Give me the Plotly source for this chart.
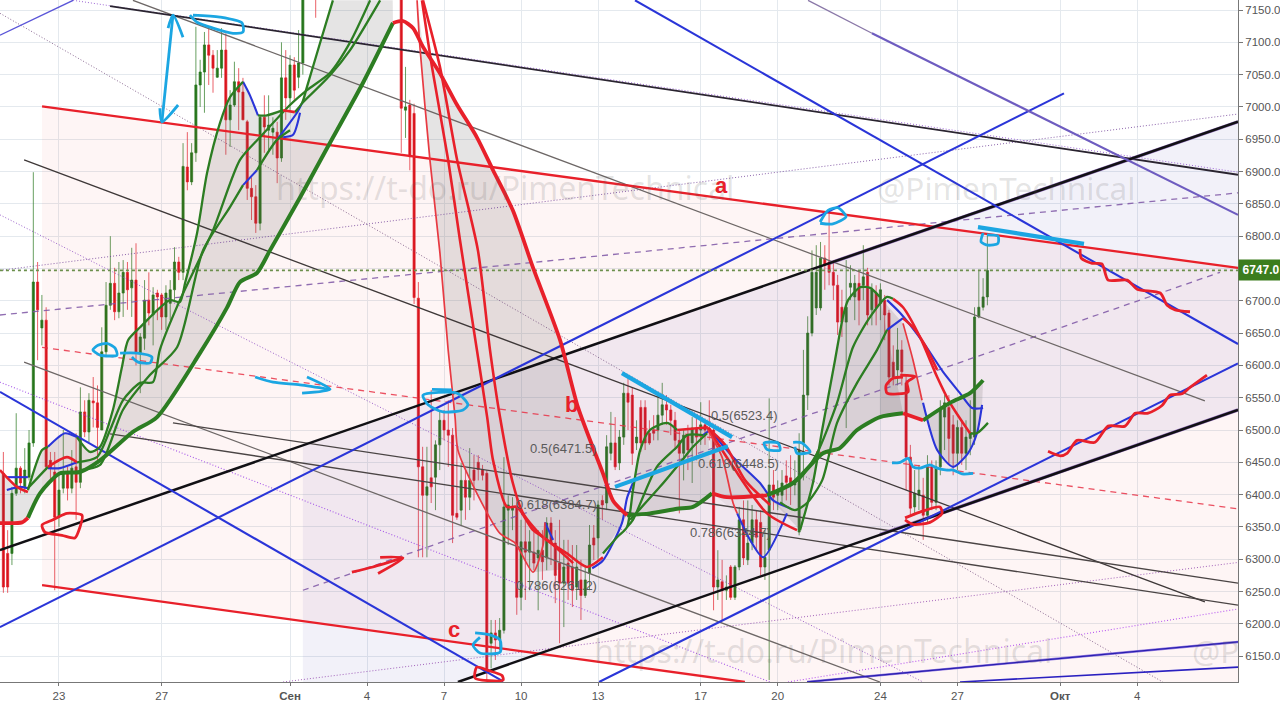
import plotly.graph_objects as go

N = None
# ---- x tick labels (days counted from 23 Aug) ----
tick_days = [0, 4, 9, 12, 15, 18, 21, 25, 28, 32, 35, 39, 42]
tick_text = ["23", "27", "<b>Сен</b>", "4", "7", "10", "13", "17", "20", "24", "27", "<b>Окт</b>", "4"]
y_ticks = [6150 + 50 * k for k in range(21)]
last_price = 6747.0

# ---- 4h candles ----
first_candle_day = -2.1667
opens = [6433,6309,6309,6402,6441,6412,6427,6480,6729,6658,
6670,6453,6435,6365,6410,6435,6410,6443,6419,6528,
6497,6545,6542,6500,6621,6693,6727,6683,6712,6744,
6720,6732,6619,6642,6701,6678,6712,6709,6675,6696,
6717,6760,6744,6907,6884,6929,7034,7054,7096,7080,
7046,7060,7088,6980,7003,7039,7023,6977,6874,6861,
6820,6984,6964,6961,6961,6921,7045,7014,7065,7046,
7068,N,N,7260,N,N,N,N,N,N,
N,N,N,N,N,N,N,N,N,N,
N,N,N,7300,6995,7003,6990,6704,6443,6399,
6426,6427,6477,6515,6500,6492,6371,6376,6422,6396,
6438,6450,6439,6433,6170,6186,6175,6190,6376,6376,
6381,6241,6327,6311,6311,6302,6314,6302,6356,6325,
6294,6263,6294,6288,6257,6268,6244,6278,6333,6333,
6391,6387,6464,6480,6449,6489,6557,6554,6480,6535,
6535,6495,6500,6500,6523,6539,6531,6515,6484,6464,
6492,6480,6503,6500,6508,6503,6500,6257,6265,6252,
6288,6241,6288,6361,6299,6325,6361,6357,6288,6314,
6415,6399,6399,6429,6426,6415,6342,6480,6554,6650,
6689,6689,6766,6760,6744,6724,6690,6667,6721,6706,
6727,6724,6744,6686,6712,6696,6701,6681,6605,6593,
6624,6573,6458,6381,6399,6399,6368,6443,6388,6443,
6520,6535,6508,6464,6504,6464,6487,6489,6675,6690,
6706]
highs = [6466,6345,6412,6526,6444,6472,6500,6899,6760,6709,
6690,6466,6466,6433,6500,6443,6469,6495,6566,6546,
6557,6582,6569,6659,6729,6800,6751,6760,6763,6760,
6782,6789,6650,6732,6744,6721,6717,6712,6724,6732,
6783,6768,6944,6961,6944,7124,7073,7116,7122,7088,
7088,7122,7114,7026,7070,7060,7045,6980,6891,6879,
6987,7018,7018,6984,6977,7100,7088,7080,7077,7119,
7300,N,N,7280,N,N,N,N,N,N,
N,N,N,N,N,N,N,N,N,N,
N,N,N,7320,7062,7011,7005,6729,6474,6474,
6562,6484,6531,6531,6546,6503,6477,6449,6438,6472,
6461,6461,6446,6438,6206,6206,6209,6458,6399,6396,
6396,6361,6361,6345,6345,6345,6345,6365,6365,6345,
6361,6330,6330,6322,6322,6299,6291,6353,6353,6391,
6399,6492,6528,6520,6500,6573,6580,6565,6515,6546,
6546,6515,6523,6554,6573,6554,6539,6528,6500,6500,
6508,6520,6523,6543,6515,6546,6503,6314,6299,6275,
6291,6291,6381,6391,6391,6384,6376,6376,6345,6549,
6438,6422,6438,6453,6461,6453,6495,6624,6676,6778,
6786,6791,6786,6840,6763,6740,6717,6763,6755,6740,
6747,6786,6751,6727,6724,6727,6709,6686,6631,6658,
6639,6585,6477,6438,6446,6426,6461,6453,6453,6546,
6554,6554,6523,6515,6515,6515,6546,6690,6748,6735,
6805]
lows = [6248,6248,6291,6398,6402,6402,6422,6474,6608,6631,
6438,6418,6252,6350,6402,6391,6402,6361,6410,6489,
6481,6504,6453,6500,6613,6686,6670,6673,6675,6686,
6675,6600,6557,6624,6662,6631,6670,6655,6655,6670,
6701,6732,6732,6871,6879,6915,7000,6991,7034,7022,
7045,7045,6926,6938,7000,6964,6980,6856,6825,6805,
6809,6929,6933,6926,6882,6915,6980,6995,7011,7029,
7050,N,N,7138,N,N,N,N,N,N,
N,N,N,N,N,N,N,N,N,N,
N,N,N,6929,6952,6902,6695,6303,6303,6303,
6387,6376,6438,6484,6443,6325,6361,6353,6361,6376,
6391,6422,6422,6113,6131,6144,6159,6185,6322,6345,
6214,6221,6237,6252,6283,6221,6268,6283,6291,6232,
6170,6195,6237,6226,6237,6206,6240,6252,6299,6299,
6361,6376,6453,6438,6438,6477,6500,6446,6469,6466,
6469,6477,6484,6484,6508,6508,6492,6469,6371,6422,
6438,6418,6453,6477,6477,6484,6221,6237,6206,6237,
6237,6237,6283,6291,6291,6314,6314,6275,6268,6113,
6376,6376,6384,6391,6384,6399,6337,6422,6531,6645,
6678,6685,6717,6724,6701,6647,6644,6503,6701,6670,
6662,6701,6662,6662,6662,6670,6639,6569,6569,6569,
6569,6407,6368,6368,6376,6330,6357,6376,6376,6430,
6469,6446,6430,6438,6446,6438,6461,6477,6673,6685,
6693]
closes = [6257,6257,6402,6441,6418,6438,6480,6729,6686,6670,
6443,6441,6365,6407,6435,6410,6441,6419,6528,6497,
6546,6542,6504,6621,6693,6727,6683,6712,6744,6717,
6732,6619,6644,6701,6681,6709,6706,6675,6712,6717,
6760,6744,6908,6884,6929,7034,7054,7096,7080,7060,
7060,7088,6980,7003,7039,7023,6980,6874,6861,6820,
6984,6969,6972,6967,6921,7045,7014,7065,7026,7068,
7280,N,N,7200,N,N,N,N,N,N,
N,N,N,N,N,N,N,N,N,N,
N,N,N,6998,7000,6923,6705,6443,6399,6412,
6412,6477,6515,6500,6492,6368,6365,6422,6396,6422,
6422,6439,6430,6128,6186,6175,6190,6381,6384,6381,
6241,6327,6311,6327,6294,6314,6296,6356,6325,6275,
6263,6288,6263,6252,6288,6244,6268,6322,6322,6384,
6384,6474,6480,6443,6489,6557,6543,6464,6489,6480,
6480,6480,6495,6523,6539,6531,6515,6484,6464,6492,
6469,6503,6489,6508,6500,6497,6257,6268,6252,6257,
6241,6288,6361,6302,6325,6361,6334,6288,6303,6415,
6396,6407,6418,6419,6415,6422,6469,6554,6650,6744,
6744,6766,6755,6744,6724,6667,6667,6690,6727,6727,
6701,6737,6678,6717,6689,6717,6678,6582,6582,6624,
6590,6458,6379,6402,6407,6368,6443,6388,6443,6531,
6542,6487,6464,6504,6464,6489,6495,6675,6690,6706,
6747]

# ---- trend lines: (day, price) ----
red_top = [(-0.66, 7001), (45.93, 6751)]
red_bottom = [(-0.66, 6260), (26.72, 6110)]
black_up = [(-2.30, 6314), (45.93, 6977)]
black_up_edge = [(30.0, 6758), (45.93, 6977)]
black_low = [(15.54, 6110), (45.93, 6531)]
black_low_edge = [(31.98, 6338), (45.93, 6531)]
blue_up1 = [(-2.30, 6195), (39.15, 7021)]
blue_up2 = [(21.04, 6110), (45.93, 6603)]
blue_down1 = [(22.44, 7165), (45.93, 6633)]
blue_down2 = [(-2.30, 6559), (17.3, 6111)]
blue_corner = [(-2.30, 7111), (0.55, 7165)]
violet_thin = [(29.18, 7165), (31.67, 7114)]
violet_thick = [(31.67, 7114), (45.93, 6833)]
black_top = [(1.99, 7156), (45.93, 6895)]
dot_top = [(0.55, 7165), (45.93, 6899)]
grey_a = [(2.88, 7165), (44.64, 6545)]
grey_b = [(-1.36, 6918), (44.64, 6234)]
grey_c = [(-1.36, 6605), (31.98, 6110)]
thin_d = [(4.44, 6511), (45.93, 6263)]
thin_e = [(1.99, 6494), (45.93, 6229)]
dot_a = [(-2.30, 6747), (45.93, 6989)]
dash_b = [(-2.30, 6678), (45.93, 6867)]
dash_c = [(9.5, 6252), (45.23, 6744)]
dash_red = [(-0.66, 6628), (45.93, 6378)]
dot_e = [(-2.30, 7145), (43.0, 6110)]
dot_f = [(-2.30, 6833), (33.66, 6110)]
dot_g = [(-2.30, 6574), (27.7, 6110)]
dot_h = [(8.73, 6110), (45.93, 6295)]
dot_i = [(28.4, 6110), (45.93, 6223)]
violet_j = [(29.14, 6110), (45.93, 6172)]
blue_k = [(35.1, 6110), (45.93, 6133)]

# ---- channels ----
pink_zone = [(-0.66, 7001), (45.93, 6751), (45.93, 6000), (-0.66, 6260)]
lilac_zone = [(9.5, 6474), (45.93, 6977), (45.93, 6531), (9.5, 6023)]

# ---- slow average ----
slow_a = [(-1.21,6364),(-0.74,6402),(0.04,6433),(0.82,6435),(1.60,6453),(2.88,6497),(3.82,6520),(5.49,6619),(6.54,6689),(7.05,6729),(7.71,6743),(8.22,6778),(9.39,6860),(10.44,6936),(11.84,7037),(13.01,7130)]
slow_0 = [(-2.30,6356),(-1.44,6357),(-1.21,6364)]
slow_b = [(13.01,7130),(13.40,7133),(13.79,7122),(14.18,7093),(14.84,7052),(15.51,7003),(16.28,6953),(16.91,6902),(17.68,6840),(18.46,6752),(19.52,6639),(20.22,6535),(21.19,6433),(21.58,6391),(22.13,6368)]
slow_c = [(22.13,6368),(23.02,6371),(24.08,6378),(24.70,6381),(25.44,6402)]
slow_d = [(25.44,6402),(26.02,6396),(27.58,6399)]
slow_e = [(27.58,6399),(28.59,6418),(29.76,6464),(30.42,6472),(31.09,6500),(31.98,6520),(32.88,6526)]
slow_f = [(32.88,6526),(33.66,6515)]
slow_g = [(33.66,6515),(34.71,6542),(35.49,6557),(36.0,6577)]

# ---- fast averages ----
left_red = [(-2.30,6438),(-1.64,6412),(-1.21,6404)]
left_blue1 = [(-2.03,6427),(-1.21,6427)]
left_blue2 = [(-2.03,6407),(-1.57,6412),(-1.21,6410)]
up1_a = [(-1.21,6407),(-0.66,6469),(-0.43,6474)]
up1_b = [(-0.43,6474),(0.23,6495),(0.70,6489)]
up1_c = [(0.70,6489),(1.21,6466),(1.60,6474),(2.10,6531),(2.45,6597),(2.69,6639),(3.16,6659),(4.32,6701),(4.71,6698),(4.91,6727),(5.38,6805),(5.77,6898),(6.27,6975),(6.66,7015),(7.17,7039)]
up1_d = [(7.17,7039),(7.44,7018),(7.75,6987)]
up1_e = [(7.75,6987),(8.10,6987),(8.73,6995)]
up1_f = [(8.73,6995),(9.19,6992)]
up1_g = [(9.19,6992),(9.47,7006),(9.66,7031),(10.17,7099),(10.67,7165)]
up2_a = [(-1.21,6410),(-0.43,6443)]
up2_b = [(-0.43,6443),(0.31,6458),(0.70,6450)]
up2_c = [(0.70,6450),(1.48,6458),(1.99,6500),(2.49,6546),(3.16,6573),(3.66,6574),(3.93,6624),(4.71,6701),(6.0,6809),(7.05,6918),(7.83,6953),(9.0,7003),(9.66,7026),(10.56,7053),(11.34,7100),(12.12,7165)]
up3_a = [(-0.43,6441),(0.04,6441),(0.70,6450)]
up3_b = [(0.82,6438),(1.6,6446),(2.49,6531),(3.54,6585),(4.6,6628),(5.61,6778),(6.66,6845),(7.17,6879)]
up3_c = [(7.17,6879),(7.71,6902)]
up3_d = [(7.71,6902),(8.49,6949),(9.0,6964)]
up3_e = [(8.49,6949),(9.27,6991),(9.47,7006)]
up3_f = [(8.73,6953),(9.12,6957),(9.39,6991)]
up3_g = [(9.47,7006),(10.56,7049),(11.34,7088),(12.51,7165)]
down1 = [(13.95,7165),(14.06,7093),(14.45,6918),(14.84,6774),(15.16,6624),(15.43,6520),(15.54,6469),(16.28,6402),(17.18,6340),(17.77,6325),(18.47,6280),(18.86,6322),(18.93,6357)]
down1_b = [(18.93,6357),(19.25,6330)]
down2 = [(14.14,7165),(14.53,7062),(15.16,6918),(15.62,6794),(16.28,6624),(16.68,6520),(16.91,6453),(17.45,6381),(17.84,6381),(18.47,6345),(19.01,6330),(20.03,6294)]
down3 = [(14.18,7165),(14.84,7062),(15.51,6918),(16.32,6778),(16.79,6624),(17.18,6520),(17.68,6418),(18.08,6371),(18.86,6334),(19.79,6309),(20.57,6288),(21.19,6303)]
turn_blue = [(20.77,6286),(21.19,6298),(21.93,6356),(22.13,6395),(22.36,6418)]
rise_a = [(21.19,6309),(21.74,6334),(22.13,6350),(22.36,6407),(22.64,6469),(23.02,6500),(23.69,6511),(24.08,6500)]
rise_a_top = [(24.08,6500),(24.97,6503),(25.28,6504)]
rise_b = [(22.13,6350),(22.36,6361),(23.29,6443),(24.08,6474),(24.47,6492),(25.09,6492)]
rise_b_tip = [(25.09,6492),(25.36,6500)]
rise_c = [(22.25,6361),(23.41,6412),(24.19,6449),(24.70,6474),(25.25,6495)]
fall_blue = [(25.36,6500),(26.26,6458),(27.31,6418),(27.82,6391),(28.48,6379)]
fall_r1 = [(25.28,6503),(26.26,6443),(27.58,6371),(28.75,6345)]
fall_r2 = [(25.28,6500),(25.83,6458),(26.26,6387),(26.42,6371)]
fall_b2 = [(26.42,6371),(26.92,6330),(27.43,6303),(28.36,6371)]
fall_r3 = [(25.28,6503),(25.95,6477),(26.73,6422),(27.7,6384)]
lift_1 = [(28.87,6345),(29.37,6418),(29.73,6500),(30.23,6608),(30.54,6675),(30.74,6701),(31.21,6721),(31.6,6720),(31.98,6706)]
lift_2 = [(28.2,6410),(28.87,6425),(29.53,6464),(30.31,6542),(30.93,6628),(31.6,6675),(32.26,6706),(32.49,6703)]
lift_3 = [(28.09,6388),(28.67,6376),(29.14,6387),(29.73,6422),(30.31,6511),(31.09,6573),(31.87,6624),(32.26,6655)]
lift_3_b = [(32.26,6655),(32.88,6673)]
late_blue = [(32.26,6701),(32.77,6681),(33.66,6636),(34.44,6590),(35.1,6557),(35.57,6534),(36.0,6534)]
late_red = [(32.49,6703),(32.88,6690),(33.54,6644),(34.21,6582),(34.71,6542),(35.49,6495)]
late_tail = [(35.49,6495),(35.76,6495),(36.19,6511)]
late_red2 = [(32.88,6673),(33.27,6659),(33.74,6631),(34.21,6593)]
late_thin = [(32.88,6665),(33.27,6608),(33.62,6546)]
late_thin_b = [(33.66,6542),(34.21,6469),(34.83,6443),(35.41,6464),(35.76,6495),(35.96,6539)]

# ---- hand drawn marks ----
cy_arrow = [(4.01,6977),(4.44,7142)]
cy_head1 = [(4.25,7122),(4.44,7142),(4.83,7108)]
cy_head2 = [(3.93,6998),(4.01,6977),(4.64,7003)]
cy_ell1 = [(5.10,7142),(5.38,7131),(6.0,7122),(6.78,7114),(7.17,7116),(7.13,7130),(6.27,7139),(5.22,7142)]
cy_m1 = [(1.32,6624),(1.52,6631),(1.87,6634),(2.18,6627),(2.26,6616),(1.6,6616),(1.32,6624)]
cy_m2 = [(2.38,6619),(3.04,6619),(3.62,6613),(3.55,6604),(3.08,6605),(2.84,6613)]
cy_arr2 = [(7.64,6582),(8.34,6574),(9.39,6570),(10.56,6563)]
cy_arr2h = [(9.66,6582),(10.56,6563),(9.47,6557)]
cy_top = [(14.53,6563),(15.31,6562)]
cy_loop = [(14.18,6554),(14.38,6539),(14.96,6528),(15.74,6531),(15.93,6539),(15.51,6557),(14.18,6554)]
cy_c = [(16.21,6186),(16.79,6183),(17.18,6175),(17.18,6156),(16.4,6155),(16.13,6167),(16.4,6179)]
cy_m772 = [(27.47,6480),(28.01,6480),(28.09,6469),(27.58,6470),(27.47,6480)]
cy_m803 = [(28.6,6481),(28.95,6480),(29.26,6466),(28.75,6464),(28.67,6474)]
cy_m832 = [(29.65,6822),(29.96,6840),(30.35,6844),(30.66,6830),(30.15,6819),(29.65,6820)]
cy_m990 = [(36.0,6805),(35.92,6791),(36.19,6786),(36.58,6789),(36.58,6800),(36.15,6802)]
cy_sq = [(32.45,6449),(32.77,6450),(33.08,6456),(33.27,6443),(33.54,6441),(33.93,6446),(34.21,6441),(34.6,6438),(34.83,6438),(35.18,6432),(35.61,6433)]
cy_long1 = [(21.93,6588),(26.22,6489)]
cy_long2 = [(21.66,6412),(26.06,6475)]
cy_long3 = [(35.8,6814),(39.93,6788)]
rd_m1 = [(-0.66,6353),(-0.23,6361),(-0.04,6365),(0.31,6371),(0.9,6368),(0.82,6350),(0.62,6333),(0.12,6337),(-0.55,6342),(-0.66,6353)]
rd_arr = [(11.41,6280),(12.23,6288),(13.4,6302)]
rd_arrh = [(12.51,6303),(13.4,6302),(12.43,6278)]
rd_m2 = [(16.21,6116),(16.28,6133),(16.71,6128),(17.26,6120),(17.3,6113),(16.21,6116)]
rd_m3 = [(32.77,6585),(33.35,6583),(33.04,6574),(33.08,6559),(32.26,6557),(32.22,6569),(32.49,6580),(32.88,6582)]
rd_m4 = [(32.96,6364),(33.54,6373),(34.32,6381),(34.4,6371),(33.93,6357),(33.27,6354),(32.96,6361)]
rd_down = [(39.78,6780),(39.82,6766),(40.25,6758),(40.63,6757),(40.87,6732),(41.61,6732),(42.0,6718),(42.9,6712),(43.17,6693),(43.48,6686),(44.06,6683)]
rd_up = [(38.53,6467),(39.0,6460),(39.27,6464),(39.66,6484),(40.36,6481),(40.87,6506),(41.53,6506),(41.92,6526),(42.43,6526),(42.97,6538),(43.28,6554),(43.75,6556),(44.06,6566),(44.72,6585)]

GREEN, RED, BLUE, CYAN = "#2c7d22", "#e8202a", "#2a35d8", "#1ba6e2"
fig = go.Figure()

def line(pts, color, width=1.8, dash="solid", smooth=False):
    style = dict(color=color, width=width, dash=dash)
    if smooth:
        style.update(shape="spline", smoothing=0.7)
    fig.add_trace(go.Scatter(x=[p[0] for p in pts], y=[p[1] for p in pts], mode="lines",
                             line=style, hoverinfo="skip"))

def area(pts, color):
    fig.add_trace(go.Scatter(x=[p[0] for p in pts], y=[p[1] for p in pts], mode="lines", fill="toself",
                             fillcolor=color, line=dict(width=0), hoverinfo="skip"))

days = [first_candle_day + i / 6 for i in range(len(opens))]
fig.add_trace(go.Candlestick(x=days, open=opens, high=highs, low=lows, close=closes,
    increasing=dict(line=dict(color="rgba(40,120,30,0.7)", width=1), fillcolor="#27751c"),
    decreasing=dict(line=dict(color="rgba(225,30,40,0.7)", width=1), fillcolor="#d8141c"),
    whiskerwidth=0, hoverinfo="skip"))

# zones
area(pink_zone, "rgba(240,60,60,0.05)")
area(lilac_zone, "rgba(70,60,170,0.07)")
RIB = "rgba(95,85,85,0.16)"
area(left_red + slow_0[::-1], RIB)
area(up1_a + up1_b + up1_c + up1_d + up1_e + up1_f + up1_g + [(13.0, 7165)] + slow_a[::-1], RIB)
area(down1[:-2] + [(20.57, 6288), (21.19, 6309)] + (slow_b[3:])[::-1], RIB)
area(rise_a[2:] + rise_a_top + slow_c[::-1], RIB)
area(fall_blue[:4] + slow_d[::-1], RIB)
area(slow_d + fall_b2[::-1], "rgba(95,85,85,0.07)")
area(lift_1 + slow_e[::-1], RIB)
area([(31.98, 6706)] + late_thin + late_thin_b + slow_g[::-1] + slow_f[::-1] + [(31.98, 6520)], RIB)

# trend lines
FINE = "1px,2px"
line(dot_e, "rgba(110,70,120,0.8)", 1, FINE)
line(dot_f, "rgba(130,60,190,0.8)", 1, FINE)
line(dot_g, "rgba(150,60,230,0.85)", 1.1, FINE)
line(dot_a, "rgba(110,60,150,0.8)", 1, FINE)
line(dot_h, "rgba(140,60,170,0.8)", 1, FINE)
line(dot_i, "rgba(170,60,240,0.85)", 1.1, FINE)
line(dot_top, "rgba(150,90,210,0.9)", 1, FINE)
line(dash_b, "rgba(125,85,165,0.85)", 1.3, "6px,5px")
line(dash_c, "rgba(125,85,165,0.85)", 1.3, "6px,5px")
line(dash_red, "rgba(232,50,70,0.85)", 1.3, "6px,5px")
line(grey_a, "#6d6766", 1.3)
line(grey_b, "#3e3838", 1.3)
line(grey_c, "#6d6766", 1.3)
line(thin_d, "#4a4444", 1.4)
line(thin_e, "#4a4444", 1.4)
line(black_top, "#2a2430", 1.8)
line(red_top, RED, 2.3)
line(red_bottom, RED, 2.3)
line(black_up_edge, "rgba(120,80,170,0.8)", 3.4)
line(black_up, "#111014", 2.5)
line(black_low_edge, "rgba(120,80,170,0.8)", 3.4)
line(black_low, "#111014", 2.5)
line(blue_up1, BLUE, 2.1)
line(blue_up2, BLUE, 2.1)
line(blue_down1, BLUE, 2.1)
line(blue_down2, BLUE, 2.1)
line(blue_corner, "#5a55d8", 1.4)
line(violet_thin, "#8a78a8", 1.3)
line(violet_thick, "#6e5cc0", 2.1)
line(violet_j, "rgba(120,90,220,0.8)", 2.4)
line(violet_j, "#2a20b0", 1.3)
line(blue_k, "#2a20c0", 1.6)

# price line
line([(-2.30, last_price), (45.93, last_price)], "#6c8f4c", 1.6, "dot")

# averages
for s in [left_blue1, left_blue2, up1_b, up1_d, up3_a, up3_c, up3_e, up3_f, down1_b, turn_blue, rise_b_tip,
          fall_blue, fall_b2, lift_3_b, late_blue, late_thin_b]:
    line(s, BLUE, 2.1, smooth=True)
for s in [up1_a, up1_c, up1_e, up1_g, up2_a, up2_c, up3_b, up3_d, up3_g, rise_a, rise_b, rise_c,
          lift_1, lift_2, lift_3, late_tail]:
    line(s, GREEN, 2.3, smooth=True)
for s in [left_red, up1_f, up2_b, rise_a_top, down2, down3, fall_r1, fall_r3, late_red, late_red2]:
    line(s, RED, 2.6, smooth=True)
for s in [down1, fall_r2, late_thin]:
    line(s, "#e83a42", 1.7, smooth=True)
for s in [slow_a, slow_c, slow_e, slow_g]:
    line(s, GREEN, 4, smooth=True)
for s in [slow_0, slow_b, slow_d, slow_f]:
    line(s, RED, 3.8, smooth=True)

# hand marks
for s in [cy_arrow, cy_head1, cy_head2, cy_ell1, cy_m1, cy_m2, cy_arr2, cy_arr2h, cy_top, cy_loop, cy_c,
          cy_m772, cy_m803, cy_m832, cy_m990, cy_sq]:
    line(s, CYAN, 2.8, smooth=True)
for s in [cy_long1, cy_long2, cy_long3]:
    line(s, CYAN, 4.2)
for s in [rd_m1, rd_arr, rd_arrh, rd_m2, rd_m3, rd_m4, rd_down, rd_up]:
    line(s, RED, 2.8, smooth=True)

notes = []
for txt, dx, py, size in [("https://t-do.ru/PimenTechnical", 17.37, 6875, 32), ("@PimenTechnical", 36.9, 6875, 31.5),
                          ("https://t-do.ru/PimenTechnical", 29.76, 6159, 32), ("@P", 45.05, 6159, 31.5)]:
    notes.append(dict(x=dx, y=py, xref="x", yref="y", text=txt, showarrow=False,
                      font=dict(family="Noto Sans", size=size, color="rgba(90,90,90,0.17)")))
FIB = dict(family="Liberation Sans", size=13, color="#5a5a5a")
for txt, dx, py in [("0.5(6523.4)", 26.72, 6523), ("0.5(6471.5)", 19.67, 6471), ("0.618(6448.5)", 26.49, 6448),
                    ("0.618(6384.7)", 19.4, 6384), ("0.786(6344.7)", 26.14, 6342), ("0.786(6261.2)", 19.4, 6260)]:
    notes.append(dict(x=dx, y=py, xref="x", yref="y", text=txt, showarrow=False, font=FIB))
for txt, dx, py in [("a", 25.79, 6879), ("b", 19.98, 6540), ("c", 15.39, 6192)]:
    notes.append(dict(x=dx, y=py, xref="x", yref="y", text="<b>%s</b>" % txt, showarrow=False,
                      font=dict(family="Liberation Sans", size=22, color=RED)))
notes.append(dict(x=1, y=last_price, xref="paper", yref="y", xanchor="left", text="<b>%.1f</b>" % last_price,
                  showarrow=False, bgcolor="#3c7d1e", width=42, height=18, align="center",
                  font=dict(family="Liberation Sans", size=12, color="white")))

GRID = "#e4e9ee"
y_labels = ["" if v == 6750 else "%.1f" % v for v in y_ticks]
fig.update_layout(
    width=1280, height=703, margin=dict(l=0, r=42, t=0, b=21), showlegend=False,
    paper_bgcolor="white", plot_bgcolor="white", annotations=notes, hovermode=False,
    xaxis=dict(range=[-2.298, 45.93], tickmode="array", tickvals=tick_days, ticktext=tick_text,
               showgrid=True, gridcolor=GRID, zeroline=False, ticks="outside", ticklen=3, tickcolor="#777",
               showline=True, linecolor="#777", linewidth=1, rangeslider=dict(visible=False),
               tickfont=dict(family="Liberation Sans", size=11.5, color="#555")),
    yaxis=dict(range=[6110, 7165.5], side="right", tickmode="array", tickvals=y_ticks,
               ticktext=y_labels, showgrid=True, gridcolor=GRID, zeroline=False,
               ticks="outside", ticklen=4, tickcolor="#777", showline=True, linecolor="#777", linewidth=1,
               tickfont=dict(family="Liberation Sans", size=11.5, color="#555")),
)
fig.write_html("out.html", config=dict(displayModeBar=False),
               post_script="document.body.style.margin='0';")
